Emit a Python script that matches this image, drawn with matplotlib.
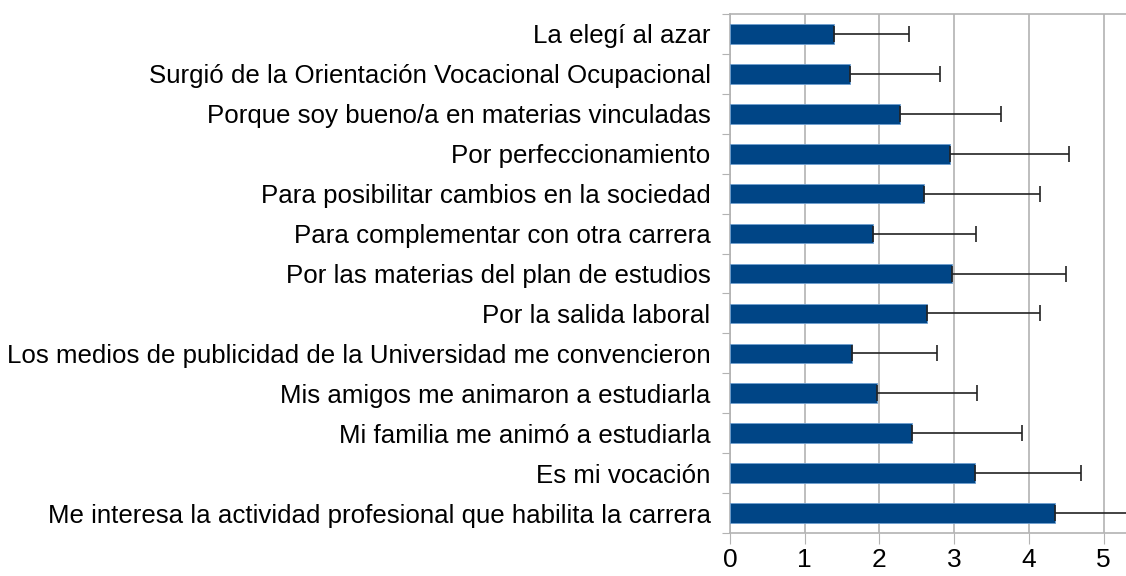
import numpy as np
import matplotlib.pyplot as plt

# categories, top to bottom as in the chart
categorias = [
    "La elegí al azar",
    "Surgió de la Orientación Vocacional Ocupacional",
    "Porque soy bueno/a en materias vinculadas",
    "Por perfeccionamiento",
    "Para posibilitar cambios en la sociedad",
    "Para complementar con otra carrera",
    "Por las materias del plan de estudios",
    "Por la salida laboral",
    "Los medios de publicidad de la Universidad me convencieron",
    "Mis amigos me animaron a estudiarla",
    "Mi familia me animó a estudiarla",
    "Es mi vocación",
    "Me interesa la actividad profesional que habilita la carrera",
]
medias = [1.39, 1.61, 2.27, 2.95, 2.59, 1.92, 2.97, 2.64, 1.63, 1.97, 2.43, 3.28, 4.35]
desvios = [1.01, 1.20, 1.35, 1.58, 1.56, 1.37, 1.52, 1.51, 1.14, 1.34, 1.48, 1.41, 1.30]

plt.rcParams['font.family'] = ['Liberation Sans', 'DejaVu Sans']

fig = plt.figure(figsize=(11.26, 5.76), dpi=100)
ax = fig.add_axes([730 / 1126, 1 - 533 / 576, 1 - 730 / 1126 + 0.02, (533 - 14) / 576])

y = np.arange(len(categorias))
ax.barh(y, medias, height=0.49, color="#004586", edgecolor="#6f9fd0", linewidth=0.6,
        xerr=[np.zeros(len(desvios)), desvios], zorder=3,
        error_kw=dict(ecolor="#222222", elinewidth=1.2, capsize=6, capthick=1.2))

ax.set_ylim(len(categorias) - 0.5, -0.5)
ax.set_xlim(0, 5.6)
ax.set_xticks([0, 1, 2, 3, 4, 5])
ax.tick_params(axis='x', labelsize=19, length=8, color="#b3b3b3", pad=3)

# y ticks at category boundaries, labels centered on bars
ax.set_yticks(np.arange(len(categorias) + 1) - 0.5)
ax.set_yticklabels([])
ax.set_yticks(y, minor=True)
ax.set_yticklabels(categorias, minor=True, fontsize=18.6)
ax.tick_params(axis='y', which='major', length=6, color="#b3b3b3")
ax.tick_params(axis='y', which='minor', length=0, pad=14)

ax.grid(axis='x', color="#b3b3b3", linewidth=1.2, zorder=0)
for s in ax.spines.values():
    s.set_color("#b3b3b3")
    s.set_linewidth(1.2)

plt.savefig("out.png", dpi=100)
